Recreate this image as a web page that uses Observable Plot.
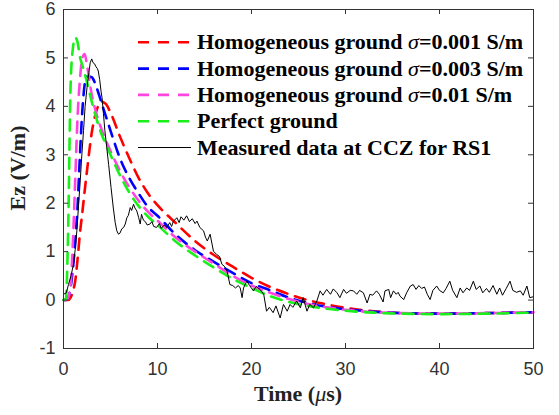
<!DOCTYPE html>
<html><head><meta charset="utf-8">
<script src="https://cdn.jsdelivr.net/npm/d3@7"></script>
<script src="https://cdn.jsdelivr.net/npm/@observablehq/plot@0.6"></script>
<style>body{margin:0;background:#fff;} #chart{width:559px;height:415px;}
.serif{font-family:"Liberation Serif","Times New Roman",serif !important;font-weight:bold;font-size:22px;}
</style>
</head><body><div id="chart"></div>
<script>
// time axis for simulated curves (µs)
const time = [0,0.25,0.5,0.75,1,1.25,1.5,1.75,2,2.25,2.5,3,3.5,4,4.5,5,6,7,8,9,10,12,14,16,18,20,22,24,26,28,30,33,36,40,45,50];
const sigma0001 = [0,0,0,0.05,0.18,0.4,0.85,1.38,1.8,2.25,2.67,3.45,3.9,4.1,4.05,3.87,3.38,2.93,2.52,2.2,1.96,1.58,1.22,0.93,0.69,0.46,0.27,0.12,0.0,-0.09,-0.16,-0.23,-0.27,-0.28,-0.27,-0.25];
const sigma0003 = [0,0,0.05,0.25,0.65,1.2,1.95,3.0,3.9,4.45,4.62,4.6,4.4,4.1,3.8,3.5,2.93,2.52,2.2,1.92,1.74,1.34,1.03,0.79,0.56,0.35,0.2,0.05,-0.06,-0.14,-0.19,-0.24,-0.27,-0.28,-0.27,-0.25];
const sigma001 = [0,0,0.05,0.3,1.2,2.5,3.8,4.55,5.0,5.08,4.85,4.25,3.85,3.55,3.3,3.08,2.67,2.33,2.05,1.82,1.64,1.28,1.0,0.75,0.5,0.3,0.15,0.02,-0.08,-0.15,-0.2,-0.25,-0.27,-0.28,-0.27,-0.25];
const perfect = [0,0.02,1.5,4.4,5.2,5.42,5.32,5.02,4.85,4.68,4.5,4.1,3.75,3.45,3.22,3.0,2.58,2.22,1.94,1.72,1.55,1.2,0.92,0.67,0.44,0.25,0.08,-0.04,-0.12,-0.18,-0.22,-0.26,-0.28,-0.29,-0.28,-0.26];

// measured data
const measuredT = [0,0.3,0.53,0.8,1.06,1.25,1.42,1.6,1.78,1.95,2.13,2.3,2.5,2.7,2.84,3.0,3.15,3.3,3.45,3.6,3.7,3.85,4.0,4.1,4.25,4.4,4.6,4.8,5.06,5.3,5.5,5.67,5.85,6.0,6.2,6.4,6.57,6.74,6.9,7.1,7.25,7.45,7.6,7.8,8.0,8.16,8.3,8.5,8.7,8.9,9.2,9.4,9.6,9.9,10.2,10.4,10.7,11.0,11.3,11.5,11.7,12.06,12.3,12.5,12.8,13.1,13.4,13.7,14.0,14.2,14.5,14.9,15.1,15.3,15.6,15.95,16.3,16.6,16.85,17.1,17.4,17.7,18.0,18.3,18.6,18.8,19.0,19.15,19.5,19.8,20.2,20.5,20.9,21.3,21.6,21.9,22.3,22.6,23.05,23.4,23.8,24.1,24.4,24.8,25.2,25.5,25.9,26.2,26.6,26.95,27.3,27.6,28.0,28.4,28.7,29.1,29.4,29.8,30.1,30.5,30.85,31.2,31.5,31.9,32.3,32.6,32.9,33.3,33.6,34.0,34.2,34.6,34.8,35.1,35.4,35.6,35.8,36.2,36.5,36.9,37.2,37.5,37.8,38.1,38.4,38.7,39.0,39.3,39.7,40.0,40.4,40.7,41.1,41.4,41.85,42.2,42.5,42.9,43.2,43.6,43.9,44.3,44.6,45.0,45.3,45.7,46.1,46.4,46.7,47.1,47.5,47.8,48.2,48.6,48.9,49.3,49.6,50];
const measuredV = [0.12,0.15,0.32,0.5,0.74,1.05,1.43,1.95,2.46,3.0,3.5,4.0,4.39,4.7,4.9,4.98,4.9,4.88,4.82,4.78,4.73,4.55,4.3,4.18,3.85,3.5,3.15,2.8,2.32,1.9,1.6,1.43,1.36,1.38,1.47,1.5,1.57,1.7,1.75,1.91,1.85,1.98,1.9,1.84,1.7,1.57,1.77,1.65,1.62,1.55,1.57,1.62,1.52,1.5,1.58,1.48,1.55,1.5,1.6,1.52,1.63,1.7,1.6,1.72,1.65,1.74,1.62,1.68,1.58,1.63,1.5,1.43,1.3,1.22,1.36,1.01,0.94,0.9,0.74,0.7,0.6,0.32,0.3,0.25,0.3,0.25,0.05,0.25,0.39,0.3,0.19,0.28,0.22,0.12,-0.23,-0.15,-0.26,-0.12,-0.37,-0.09,-0.23,-0.09,-0.15,-0.02,-0.16,0.05,-0.23,-0.09,-0.16,-0.02,0.19,0.1,0.22,0.12,0.23,0.15,0.05,0.22,0.14,0.2,0.19,0.12,0.2,0.15,-0.06,0.12,0.1,0.19,0.12,-0.04,0.19,0.22,0.05,0.19,0.12,0.16,0.08,0.01,0.15,0.29,0.32,0.22,0.3,0.24,0.27,0.12,0.01,0.2,0.29,0.2,0.15,0.24,0.39,0.2,0.05,0.25,0.15,0.25,0.2,0.39,0.22,0.29,0.15,0.24,0.16,0.3,0.12,0.25,0.1,0.24,0.39,0.2,0.16,0.19,0.1,0.29,0.05,0.07];

const xTicks = [0,10,20,30,40,50];
const yTicks = [-1,0,1,2,3,4,5,6];
const seriesNames = ["Homogeneous ground σ=0.001 S/m","Homogeneous ground σ=0.003 S/m","Homogeneous ground σ=0.01 S/m","Perfect ground","Measured data at CCZ for RS1"];
const seriesColors = ["#ff0000","#0000ff","#ff45e0","#19f019","#000000"];
const simValues = [sigma0001, sigma0003, sigma001, perfect];

const simData = simValues.map((vals, i) => time.map((t, j) => ({t, v: vals[j], s: seriesNames[i]})));
const measured = measuredT.map((t, j) => ({t, v: measuredV[j]}));

const W = 559, H = 415, mL = 63, mR = 26, mT = 9, mB = 67, tick = 5;
const innerW = W - mL - mR, innerH = H - mT - mB;
const axisColor = "#333";
const plot = Plot.plot({
  width: W, height: H,
  marginLeft: mL, marginRight: mR, marginTop: mT, marginBottom: mB,
  x: {domain: [0, 50]},
  y: {domain: [-1, 6]},
  style: {fontFamily: "'Liberation Sans', Arial, sans-serif", fontSize: "18px", color: axisColor, background: "#fff"},
  marks: [
    ...simData.map((d, i) => Plot.line(d, {x: "t", y: "v", stroke: seriesColors[i], strokeWidth: 2.6, strokeDasharray: "11,8", curve: "monotone-x"})),
    Plot.line(measured, {x: "t", y: "v", stroke: seriesColors[4], strokeWidth: 1}),
    Plot.frame({stroke: axisColor, strokeWidth: 1}),
    // inward ticks on all four sides
    Plot.tickX(xTicks, {x: d => d, stroke: axisColor, insetTop: innerH - tick}),
    Plot.tickX(xTicks, {x: d => d, stroke: axisColor, insetBottom: innerH - tick}),
    Plot.tickY(yTicks, {y: d => d, stroke: axisColor, insetRight: innerW - tick}),
    Plot.tickY(yTicks, {y: d => d, stroke: axisColor, insetLeft: innerW - tick}),
    Plot.axisX(xTicks, {anchor: "bottom", tickSize: 0, tickPadding: 14, label: null, fill: axisColor, tickFormat: d => String(d)}),
    Plot.axisY(yTicks, {anchor: "left", tickSize: 0, tickPadding: 8, label: null, fill: axisColor, tickFormat: d => String(d)})
  ]
});
document.getElementById("chart").appendChild(plot);

const svg = d3.select(plot);
// axis titles
const xt = svg.append("text").attr("class", "serif").attr("x", 298).attr("y", 401)
  .attr("text-anchor", "middle").attr("fill", "#222");
xt.append("tspan").text("Time (");
xt.append("tspan").style("font-style", "italic").style("font-weight", "normal").text("μ");
xt.append("tspan").text("s)");
svg.append("text").attr("class", "serif").attr("transform", "translate(25,168) rotate(-90)")
  .attr("text-anchor", "middle").attr("fill", "#222").text("Ez (V/m)");

// legend
const lg = svg.append("g").attr("text-anchor", "start");
seriesNames.forEach((name, i) => {
  const y = 42.3 + i * 26.3;
  lg.append("line").attr("x1", 138).attr("x2", 191).attr("y1", y).attr("y2", y)
    .attr("stroke", seriesColors[i]).attr("stroke-width", i < 4 ? 2.6 : 1)
    .attr("stroke-dasharray", i < 4 ? "11,9" : null);
  const t = lg.append("text").attr("class", "serif").attr("x", 197).attr("y", y + 7)
    .attr("text-anchor", "start").attr("fill", "#000");
  const parts = name.split("σ");
  t.append("tspan").text(parts[0]);
  if (parts.length > 1) {
    t.append("tspan").style("font-style", "italic").style("font-weight", "normal").text("σ");
    t.append("tspan").text(parts[1]);
  }
});
</script>
</body></html>
